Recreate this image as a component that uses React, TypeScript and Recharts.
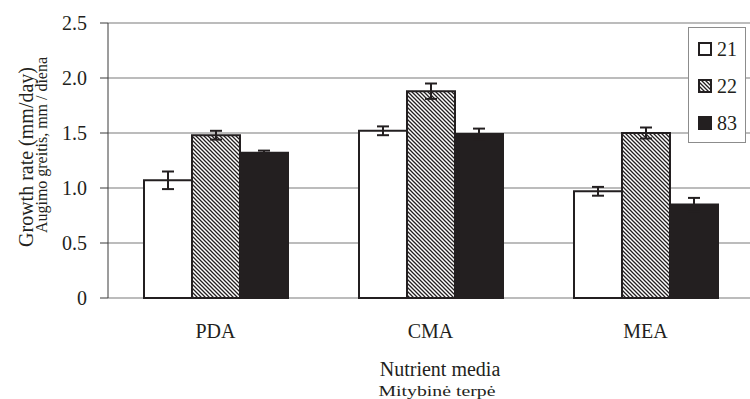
import { BarChart, Bar, XAxis, YAxis, CartesianGrid, ErrorBar, Legend } from 'recharts';

const media = ['PDA', 'CMA', 'MEA'];
const strains = ['21', '22', '83'];
const growth21 = [1.07, 1.52, 0.97];
const growth22 = [1.48, 1.88, 1.5];
const growth83 = [1.32, 1.49, 0.85];
const err21 = [0.08, 0.04, 0.04];
const err22 = [0.04, 0.07, 0.05];
const err83 = [0.02, 0.05, 0.06];
const yTicks = [0, 0.5, 1.0, 1.5, 2.0, 2.5];

const INK = '#231f20';
const FONT = "'Liberation Serif', 'Times New Roman', serif";
const fills = ['#ffffff', 'url(#hatch)', INK];

const data = media.map((m, i) => ({
  medium: m,
  s21: growth21[i],
  e21: err21[i],
  s22: growth22[i],
  e22: err22[i],
  s83: growth83[i],
  e83: err83[i],
}));

// category label sits well below the axis
const CategoryTick = ({ x, y, payload }: any) => (
  <text x={x} y={y + 40} textAnchor="middle" fontSize={20} fontFamily={FONT} fill={INK}>
    {payload.value}
  </text>
);

const YTitle = () => (
  <g fontFamily={FONT} fill={INK}>
    <text x={33} y={157} transform="rotate(-90 33 157)" textAnchor="middle" fontSize={20}>
      Growth rate (mm/day)
    </text>
    <text
      x={47}
      y={145}
      transform="rotate(-90 47 145)"
      textAnchor="middle"
      fontSize={16}
      textLength={176}
      lengthAdjust="spacingAndGlyphs"
    >
      Augimo greitis, mm / diena
    </text>
  </g>
);

const XTitle = () => (
  <g fontFamily={FONT} fill={INK}>
    <text x={440} y={376} textAnchor="middle" fontSize={20}>
      Nutrient media
    </text>
    <text
      x={437}
      y={396}
      textAnchor="middle"
      fontSize={15}
      textLength={117}
      lengthAdjust="spacingAndGlyphs"
    >
      Mitybinė terpė
    </text>
  </g>
);

const LegendBox = () => (
  <div
    style={{
      width: 58,
      height: 116,
      border: '1px solid #8c8c8c',
      background: '#fff',
      boxSizing: 'border-box',
      fontFamily: FONT,
    }}
  >
    <svg width={56} height={114} style={{ display: 'block' }}>
      <defs>
        <pattern id="hatchLegend" width={4} height={4} patternUnits="userSpaceOnUse">
          <rect width={4} height={4} fill="#fff" />
          <path d="M-1,-1 L5,5 M-1,3 L1,5 M3,-1 L5,1" stroke={INK} strokeWidth={1.3} />
        </pattern>
      </defs>
      {strains.map((s, i) => (
        <g key={s}>
          <rect
            x={10}
            y={15 + i * 37}
            width={12}
            height={12}
            fill={i === 1 ? 'url(#hatchLegend)' : fills[i]}
            stroke={INK}
            strokeWidth={2}
          />
          <text x={28} y={28 + i * 37} fontSize={20} fontFamily={FONT} fill={INK}>
            {s}
          </text>
        </g>
      ))}
    </svg>
  </div>
);

export default function App() {
  return (
    <div
      style={{
        position: 'fixed',
        left: 0,
        top: 0,
        width: 750,
        height: 399,
        overflow: 'hidden',
        background: '#fff',
      }}
    >
      <BarChart
        width={760}
        height={399}
        data={data}
        margin={{ top: 23, right: 7, left: 0, bottom: 0 }}
        barCategoryGap={36}
        barGap={0}
      >
        <defs>
          <pattern id="hatch" width={4} height={4} patternUnits="userSpaceOnUse">
            <rect width={4} height={4} fill="#fff" />
            <path d="M-1,-1 L5,5 M-1,3 L1,5 M3,-1 L5,1" stroke={INK} strokeWidth={1.3} />
          </pattern>
        </defs>
        <CartesianGrid vertical={false} stroke="#a6a6a6" strokeWidth={1.5} />
        <XAxis
          dataKey="medium"
          axisLine={false}
          tickLine={false}
          tickSize={0}
          tickMargin={0}
          tick={<CategoryTick />}
          height={101}
          label={{ content: <XTitle /> }}
        />
        <YAxis
          domain={[0, 2.5]}
          ticks={yTicks}
          width={108}
          tickSize={8}
          tickMargin={13}
          axisLine={{ stroke: '#3a3a3a', strokeWidth: 1 }}
          tickLine={{ stroke: '#3a3a3a', strokeWidth: 1 }}
          tick={{ fontSize: 20, fill: INK, fontFamily: FONT }}
          tickFormatter={(v: number) => (v === 0 ? '0' : v.toFixed(1))}
          label={{ content: <YTitle /> }}
        />
        <Legend
          layout="horizontal"
          align="center"
          verticalAlign="middle"
          content={<LegendBox />}
          wrapperStyle={{ left: 688, top: 27, width: 58, height: 116 }}
        />
        <Bar dataKey="s21" name={strains[0]} fill={fills[0]} stroke={INK} strokeWidth={2} isAnimationActive={false}>
          <ErrorBar dataKey="e21" width={6} strokeWidth={2} stroke={INK} />
        </Bar>
        <Bar dataKey="s22" name={strains[1]} fill={fills[1]} stroke={INK} strokeWidth={2} isAnimationActive={false}>
          <ErrorBar dataKey="e22" width={6} strokeWidth={2} stroke={INK} />
        </Bar>
        <Bar dataKey="s83" name={strains[2]} fill={fills[2]} stroke={INK} strokeWidth={2} isAnimationActive={false}>
          <ErrorBar dataKey="e83" width={6} strokeWidth={2} stroke={INK} />
        </Bar>
      </BarChart>
    </div>
  );
}
